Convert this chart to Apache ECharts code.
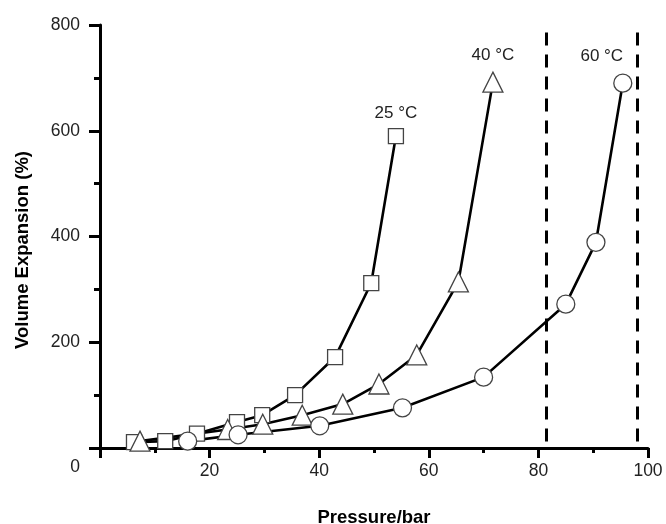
<!DOCTYPE html>
<html>
<head>
<meta charset="utf-8">
<script src="https://cdn.jsdelivr.net/npm/echarts@6/dist/echarts.min.js"></script>
<style>
  html, body { margin: 0; padding: 0; background: #fff; }
  #chart-panel { width: 666px; height: 524px; }
</style>
</head>
<body>
<div id="chart-panel"></div>
<script>
// 25 °C, squares
var p25 = [6.2, 11.9, 17.7, 25.0, 29.6, 35.6, 42.9, 49.5, 54.0];
var v25 = [11, 13, 27, 49, 62, 100, 172, 312, 590];
// 40 °C, triangles
var p40 = [7.3, 23.3, 29.7, 36.9, 44.3, 50.9, 57.8, 65.4, 71.7];
var v40 = [13, 35, 45, 62, 83, 121, 176, 314, 692];
// 60 °C, circles
var p60 = [16.0, 25.2, 40.1, 55.2, 70.0, 85.0, 90.5, 95.4];
var v60 = [13, 25, 42, 76, 134, 272, 389, 690];
// dashed reference lines
var dashX = [81.4, 98.0];
var dashTop = 786;

var seriesNames = ['25 °C', '40 °C', '60 °C'];
var xTicks = [0, 20, 40, 60, 80, 100];
var yTicks = [0, 200, 400, 600, 800];

var FONT = 'Liberation Sans, Arial, sans-serif';

function buildData (xs, ys, labelText, offset) {
  return xs.map(function (x, i) {
    var item = { value: [x, ys[i]] };
    if (i === xs.length - 1) {
      item.label = {
        show: true,
        position: 'top',
        distance: 6,
        offset: offset,
        formatter: labelText,
        color: '#222',
        fontSize: 17,
        fontFamily: FONT
      };
    }
    return item;
  });
}

var markerStyle = {
  color: '#fff',
  borderColor: '#444',
  borderWidth: 1.3
};

var lineStyle = { color: '#000', width: 2.6 };

var chart = echarts.init(document.getElementById('chart-panel'));

var option = {
  backgroundColor: '#fff',
  animation: false,
  grid: { left: 100, right: 18, top: 25, bottom: 76, outerBoundsMode: 'none', containLabel: false },
  xAxis: {
    type: 'value',
    min: xTicks[0],
    max: xTicks[xTicks.length - 1],
    interval: 20,
    name: 'Pressure/bar',
    nameLocation: 'middle',
    nameGap: 60,
    nameTextStyle: {
      color: '#000',
      fontWeight: 'bold',
      fontSize: 18.5,
      fontFamily: FONT
    },
    axisLine: { lineStyle: { color: '#000', width: 3 } },
    axisTick: { length: 10, lineStyle: { color: '#000', width: 3 } },
    minorTick: { show: true, splitNumber: 2, length: 5, lineStyle: { color: '#000', width: 3 } },
    axisLabel: {
      showMinLabel: false,
      margin: 14,
      color: '#222',
      fontSize: 17.5,
      fontFamily: FONT
    },
    splitLine: { show: false }
  },
  yAxis: {
    type: 'value',
    min: yTicks[0],
    max: yTicks[yTicks.length - 1],
    interval: 200,
    name: 'Volume Expansion (%)',
    nameLocation: 'middle',
    nameGap: 68,
    nameTextStyle: {
      color: '#000',
      fontWeight: 'bold',
      fontSize: 18.5,
      padding: [0, 27, 0, 0],
      fontFamily: FONT
    },
    axisLine: { show: true, lineStyle: { color: '#000', width: 3 } },
    axisTick: { show: true, length: 11, lineStyle: { color: '#000', width: 3 } },
    minorTick: { show: true, splitNumber: 2, length: 6, lineStyle: { color: '#000', width: 3 } },
    axisLabel: {
      margin: 20,
      color: '#222',
      fontSize: 17.5,
      fontFamily: FONT,
      formatter: function (v) {
        return v === 0 ? '{z|0}' : String(v);
      },
      rich: {
        z: {
          padding: [38, 0, 0, 0],
          color: '#222',
          fontSize: 17.5,
          fontFamily: FONT
        }
      }
    },
    splitLine: { show: false }
  },
  series: [
    {
      name: seriesNames[0],
      type: 'line',
      symbol: 'rect',
      symbolSize: 15,
      itemStyle: markerStyle,
      lineStyle: lineStyle,
      z: 3,
      data: buildData(p25, v25, seriesNames[0], [0, 0]),
      markLine: {
        silent: true,
        symbol: 'none',
        label: { show: false },
        lineStyle: { color: '#000', width: 3, type: [13, 9] },
        data: dashX.map(function (x) {
          return [{ coord: [x, dashTop] }, { coord: [x, 0] }];
        })
      }
    },
    {
      name: seriesNames[1],
      type: 'line',
      symbol: 'triangle',
      symbolSize: 20,
      itemStyle: markerStyle,
      lineStyle: lineStyle,
      z: 3,
      data: buildData(p40, v40, seriesNames[1], [0, -2])
    },
    {
      name: seriesNames[2],
      type: 'line',
      symbol: 'circle',
      symbolSize: 18,
      itemStyle: markerStyle,
      lineStyle: lineStyle,
      z: 3,
      data: buildData(p60, v60, seriesNames[2], [-21, -3])
    }
  ]
};

chart.setOption(option);
</script>
</body>
</html>
